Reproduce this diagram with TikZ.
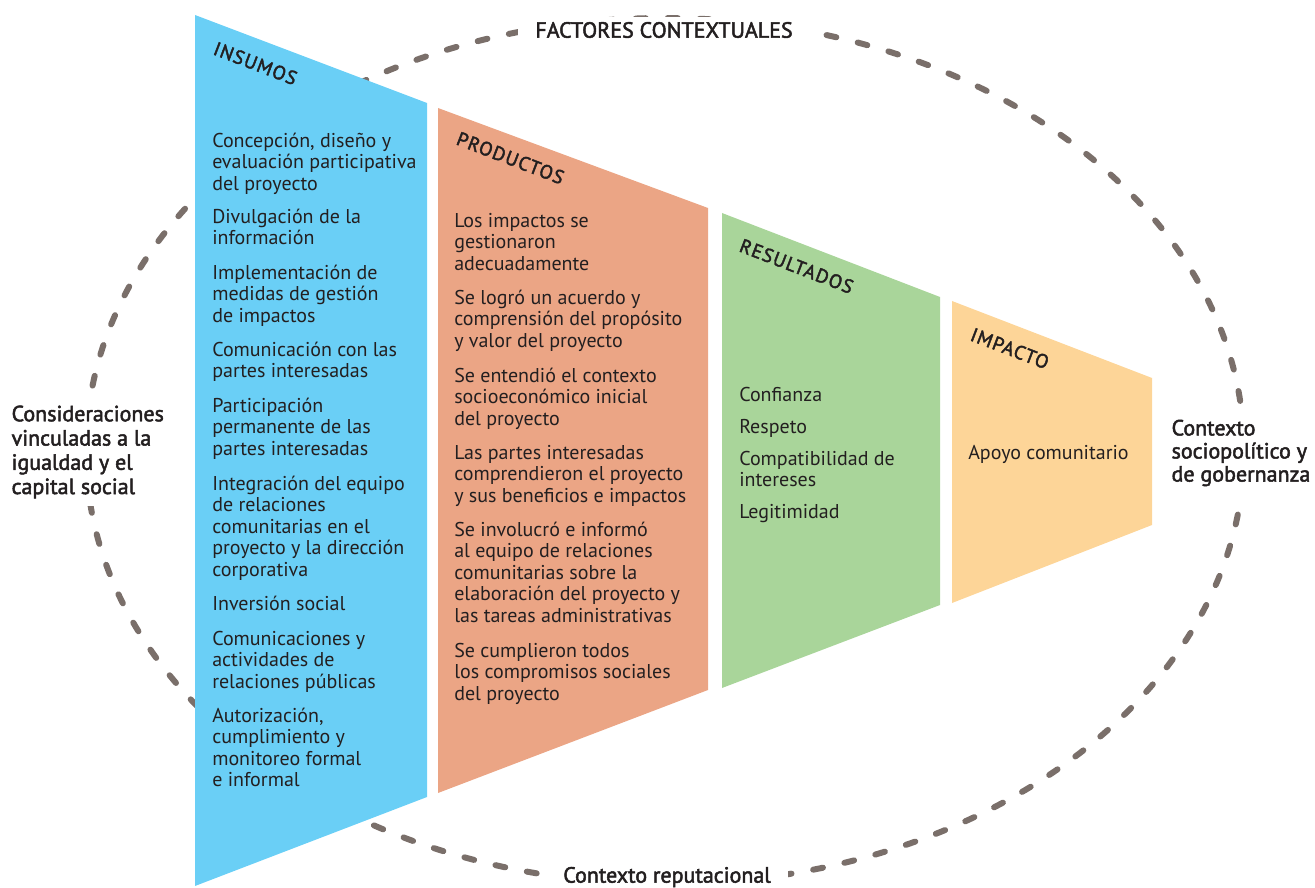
\documentclass[tikz,border=0pt]{standalone}
\usepackage{fontspec}
\setmainfont{PT Sans}
\newfontfamily\medfont{PT Sans}[FakeBold=2.2]
\newfontfamily\headfont{PT Sans}[FakeBold=2.2, LetterSpace=6]
\definecolor{txt}{HTML}{231F20}
\definecolor{dashc}{HTML}{7A6F6A}
\definecolor{cblue}{HTML}{6ACFF6}
\definecolor{corange}{HTML}{EBA585}
\definecolor{cgreen}{HTML}{A9D59A}
\definecolor{cyellow}{HTML}{FDD598}
\begin{document}
\begin{tikzpicture}[x=0.75pt,y=-0.75pt,
  body/.style={anchor=north west, inner sep=0pt, align=left, text=txt,
    font=\fontsize{15}{16.1}\selectfont},
  head/.style={anchor=base west, inner sep=0pt, rotate=-21, text=txt,
    font=\headfont\fontsize{14.5}{16}\selectfont},
  outer/.style={inner sep=0pt, text=txt, align=left,
    font=\medfont\fontsize{16.5}{18.2}\selectfont},
  gapbox/.style={outer, fill=white, inner xsep=13pt, inner ysep=4pt},
  dashline/.style={draw=dashc, line width=4.5pt, line cap=round,
    dash pattern=on 7.5pt off 16.5pt}]
\useasboundingbox (0,0) rectangle (1315,888);
% contextual ellipse
\draw[dashline] (665,451) ellipse [x radius=579, y radius=433];
% outer labels
\node[gapbox] (factores) at (664,30) {FACTORES CONTEXTUALES};
\node[gapbox] (reput) at (667,877) {Contexto reputacional};
\node[gapbox, anchor=north west, inner xsep=4pt, inner ysep=6pt] (igualdad) at (6,396)
  {\strut Consideraciones\\vinculadas a la\\igualdad y el\\capital social};
\node[gapbox, anchor=north west, inner xsep=4pt, inner ysep=9pt,
  font=\medfont\fontsize{16.5}{17.3}\selectfont] (sociopol) at (1166,407)
  {\strut Contexto\\sociopolítico y\\de gobernanza};
% stages
\fill[cblue] (195,15) -- (427,103) -- (427,797) -- (195,886) -- cycle;
\fill[corange] (438,108) -- (708,208) -- (708,690) -- (438,793) -- cycle;
\fill[cgreen] (722,213) -- (940,297) -- (940,605) -- (722,688) -- cycle;
\fill[cyellow] (952,301) -- (1152,378) -- (1152,525) -- (952,603) -- cycle;
% headings
\node[head] (hins) at (212,54) {INSUMOS};
\node[head] (hpro) at (455,144) {PRODUCTOS};
\node[head] (hres) at (738,251) {RESULTADOS};
\node[head] (himp) at (969,340) {IMPACTO};
% insumos
\node[body] (i1) at (212,132) {\strut Concepción, diseño y\\evaluación participativa\\del proyecto};
\node[body] (i2) at (212,208) {\strut Divulgación de la\\información};
\node[body] (i3) at (212,264) {\strut Implementación de\\medidas de gestión\\de impactos};
\node[body] (i4) at (212,341) {\strut Comunicación con las\\partes interesadas};
\node[body] (i5) at (212,397) {\strut Participación\\permanente de las\\partes interesadas};
\node[body] (i6) at (212,475) {\strut Integración del equipo\\de relaciones\\comunitarias en el\\proyecto y la dirección\\corporativa};
\node[body] (i7) at (212,595) {\strut Inversión social};
\node[body] (i8) at (212,630) {\strut Comunicaciones y\\actividades de\\relaciones públicas};
\node[body] (i9) at (212,707) {\strut Autorización,\\cumplimiento y\\monitoreo formal\\e informal};
% productos
\node[body] (p1) at (454,212) {\strut Los impactos se\\gestionaron\\adecuadamente};
\node[body] (p2) at (454,289) {\strut Se logró un acuerdo y\\comprensión del propósito\\y valor del proyecto};
\node[body] (p3) at (454,367) {\strut Se entendió el contexto\\socioeconómico inicial\\del proyecto};
\node[body] (p4) at (454,444) {\strut Las partes interesadas\\comprendieron el proyecto\\y sus beneficios e impactos};
\node[body] (p5) at (454,521) {\strut Se involucró e informó\\al equipo de relaciones\\comunitarias sobre la\\elaboración del proyecto y\\las tareas administrativas};
\node[body] (p6) at (454,642) {\strut Se cumplieron todos\\los compromisos sociales\\del proyecto};
% resultados
\node[body] (r1) at (739,386) {\strut Confianza};
\node[body] (r2) at (739,418) {\strut Respeto};
\node[body] (r3) at (739,450) {\strut Compatibilidad de\\intereses};
\node[body] (r4) at (739,503) {\strut Legitimidad};
% impacto
\node[body] (m1) at (968,444) {\strut Apoyo comunitario};
\end{tikzpicture}
\end{document}
